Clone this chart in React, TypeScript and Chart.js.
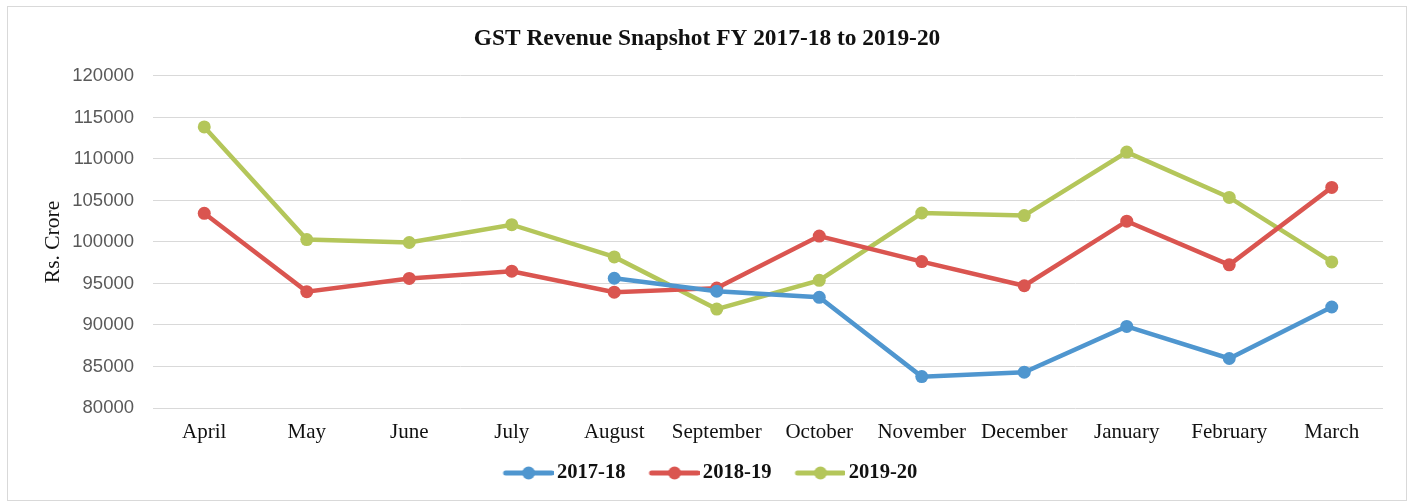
import React, { useEffect, useRef } from "react";
import { Chart, registerables } from "chart.js";

Chart.register(...registerables);

const months = ["April", "May", "June", "July", "August", "September", "October", "November", "December", "January", "February", "March"];
const fy1718 = [null, null, null, null, 95633, 94064, 93333, 83780, 84314, 89825, 85962, 92167];
const fy1819 = [103458, 94016, 95610, 96483, 93960, 94442, 100710, 97637, 94726, 102503, 97247, 106577];
const fy1920 = [113865, 100289, 99939, 102083, 98202, 91916, 95380, 103492, 103184, 110828, 105366, 97597];
const seriesNames = ["2017-18", "2018-19", "2019-20"];
const seriesColors = ["#4f96cf", "#da5550", "#b4c65a"];
const yMin = 80000;
const yMax = 120000;
const yStep = 5000;

function legendImage(color: string): HTMLCanvasElement {
  const c = document.createElement("canvas");
  c.width = 64;
  c.height = 16;
  const ctx = c.getContext("2d")!;
  ctx.strokeStyle = color;
  ctx.lineWidth = 5;
  ctx.lineCap = "round";
  ctx.beginPath();
  ctx.moveTo(16, 8);
  ctx.lineTo(62, 8);
  ctx.stroke();
  ctx.fillStyle = color;
  ctx.beginPath();
  ctx.arc(39, 8, 6.5, 0, Math.PI * 2);
  ctx.fill();
  return c;
}

export default function App() {
  const ref = useRef<HTMLCanvasElement | null>(null);
  useEffect(() => {
    if (!ref.current) return;
    const images = seriesColors.map(legendImage);
    const data = [fy1718, fy1819, fy1920];
    const chart = new Chart(ref.current, {
      type: "line",
      data: {
        labels: months,
        datasets: data.map((d, i) => ({
          label: seriesNames[i],
          data: d,
          borderColor: seriesColors[i],
          backgroundColor: seriesColors[i],
          borderWidth: 4.5,
          pointRadius: 6.5,
          pointHoverRadius: 6.5,
          pointBorderWidth: 0,
          tension: 0,
          spanGaps: false,
        })),
      },
      options: {
        responsive: false,
        animation: false,
        layout: { padding: { left: 0, right: 0, top: 0, bottom: 6.7 } },
        scales: {
          x: {
            offset: true,
            grid: { display: false },
            border: { display: false },
            ticks: {
              padding: 4,
              color: "#111",
              font: { family: "'Liberation Serif', 'Times New Roman', serif", size: 21 },
              maxRotation: 0,
            },
            afterFit: (s: any) => {
              s.height = 37.7;
            },
          },
          y: {
            min: yMin,
            max: yMax,
            border: { display: false },
            grid: { color: "#d9d9d9", lineWidth: 1, drawTicks: false },
            ticks: {
              stepSize: yStep,
              padding: 19,
              color: "#595959",
              font: { family: "'Liberation Sans', Arial, sans-serif", size: 18.5 },
              callback: (v: any) => String(v),
            },
            title: {
              display: true,
              text: "Rs. Crore",
              color: "#111",
              font: { family: "'Liberation Serif', 'Times New Roman', serif", size: 21.5 },
              padding: { top: 32, bottom: 0 },
            },
            afterFit: (s: any) => {
              s.width = 145;
            },
          },
          yRight: {
            position: "right",
            display: true,
            grid: { display: false },
            border: { display: false },
            ticks: { display: false },
            afterFit: (s: any) => {
              s.width = 23;
            },
          },
        },
        plugins: {
          title: {
            display: true,
            text: "GST Revenue Snapshot FY 2017-18 to 2019-20",
            color: "#111",
            font: { family: "'Liberation Serif', 'Times New Roman', serif", size: 23.4, weight: "bold" },
            padding: { top: 18, bottom: 22.9 },
          },
          legend: {
            position: "bottom",
            labels: {
              usePointStyle: true,
              pointStyleWidth: 50,
              padding: 17,
              color: "#111",
              font: { family: "'Liberation Serif', 'Times New Roman', serif", size: 20.6, weight: "bold" },
              generateLabels: (c: any) => {
                const base = Chart.defaults.plugins.legend.labels.generateLabels(c);
                return base.map((it: any, i: number) => ({ ...it, pointStyle: images[i] }));
              },
            },
          },
          tooltip: { enabled: false },
        },
      },
    });
    return () => chart.destroy();
  }, []);
  return (
    <div
      style={{
        position: "absolute",
        left: 7,
        top: 6,
        width: 1400,
        height: 495,
        boxSizing: "border-box",
        border: "1px solid #d9d9d9",
        background: "#fff",
      }}
    >
      <canvas ref={ref} width={1398} height={493} style={{ display: "block" }} />
    </div>
  );
}
